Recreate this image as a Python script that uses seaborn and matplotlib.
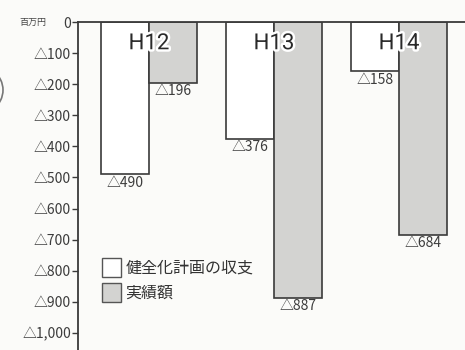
import matplotlib
matplotlib.use("Agg")
import matplotlib.pyplot as plt
import matplotlib.patheffects as pe
from matplotlib.patches import Arc
import seaborn as sns
import pandas as pd

# 年度別の収支（百万円）
years = ["H12", "H13", "H14"]
plan_values = [-490, -376, -158]     # 健全化計画の収支
actual_values = [-196, -887, -684]   # 実績額
series_names = ["健全化計画の収支", "実績額"]
y_ticks = [0, -100, -200, -300, -400, -500, -600, -700, -800, -900, -1000]
y_tick_labels = ["0", "△100", "△200", "△300", "△400", "△500",
                 "△600", "△700", "△800", "△900", "△1,000"]
unit_label = "百万円"

sns.set_theme(style="white")
plt.rcParams["font.family"] = ["Noto Sans CJK JP", "DejaVu Sans"]

df = pd.DataFrame({
    "year": years * 2,
    "value": plan_values + actual_values,
    "series": [series_names[0]] * len(years) + [series_names[1]] * len(years),
})

bg = "#fbfbf9"
ink = "#3a3a3a"
fig = plt.figure(figsize=(4.65, 3.5), dpi=100, facecolor=bg)
ax = fig.add_axes([78 / 465, 0, 387 / 465, 328 / 350], facecolor=bg)

sns.barplot(data=df, x="year", y="value", hue="series", hue_order=series_names,
            palette=["#ffffff", "#d3d3d1"], width=0.768, edgecolor=ink,
            linewidth=1.2, saturation=1, ax=ax, legend=True)

ax.set_xlim(-0.568, 2.528)
ax.set_ylim(-1055, 0)
ax.set_xlabel("")
ax.set_ylabel("")
ax.set_xticks([])
ax.set_yticks(y_ticks)
ax.set_yticklabels(y_tick_labels)
ax.tick_params(axis="y", which="major", direction="out", length=4, width=1,
               color=ink, labelsize=10, labelcolor="#3c3c3c", pad=1, left=True)

for side in ["right", "bottom"]:
    ax.spines[side].set_visible(False)
for side in ["left", "top"]:
    ax.spines[side].set_color(ink)
    ax.spines[side].set_linewidth(1.3)

# 棒の下に値ラベル
for cont, vals in zip(ax.containers, [plan_values, actual_values]):
    ax.bar_label(cont, labels=["△{:,}".format(-v) for v in vals], padding=1,
                 fontsize=10, color="#3c3c3c")

# 年度ラベル（白縁付き）
for i, yr in enumerate(years):
    ax.text(i, -70, yr, ha="center", va="center", fontsize=16,
            color="#2a2a2a", family=["Roboto"], fontweight="normal",
            path_effects=[pe.withStroke(linewidth=3.5, foreground="white")])

# 単位
fig.text(19 / 465, 1 - 22 / 350, unit_label, fontsize=6.5, color="#444444",
         va="center", ha="left")

# 凡例
leg = ax.legend(loc="upper left", bbox_to_anchor=(102 / 465, 1 - 258 / 350),
                bbox_transform=fig.transFigure, frameon=False, fontsize=11.5,
                handlelength=1.2, handleheight=1.45, handletextpad=0.25,
                labelspacing=0.35, borderaxespad=0, borderpad=0)
for t in leg.get_texts():
    t.set_color("#333333")
for h in leg.legend_handles:
    h.set_edgecolor("#555555")
    h.set_linewidth(1.0)

# 左端の丸印の一部
fig.add_artist(Arc((-20 / 465, 1 - 90 / 350), 46 / 465, 46 / 350,
                   theta1=-60, theta2=60, transform=fig.transFigure,
                   color="#777777", lw=1.2))

fig.savefig("out.png", dpi=100, facecolor=bg)
